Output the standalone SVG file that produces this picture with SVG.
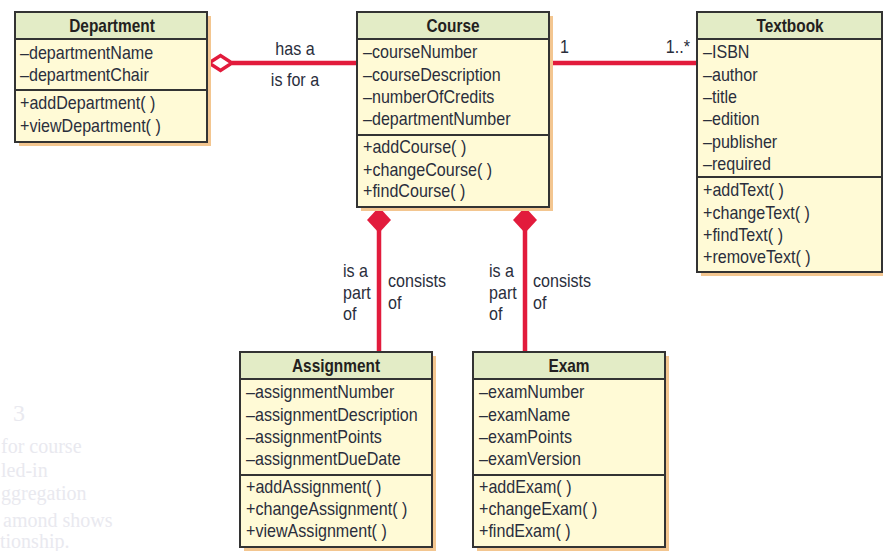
<svg xmlns="http://www.w3.org/2000/svg" width="883" height="551" viewBox="0 0 883 551">
  <defs>
    <style>
      .shadow { fill: #f3c690; }
      .body { fill: #fffad6; stroke: #333333; stroke-width: 2; }
      .head { fill: #e3ecc6; stroke: #333333; stroke-width: 2; }
      .sep { stroke: #333333; stroke-width: 2; }
      .t { font-family: "Liberation Sans", Arial, sans-serif; font-size: 17.5px; fill: #2a2e3c; }
      .h { font-family: "Liberation Sans", Arial, sans-serif; font-size: 17.5px; font-weight: bold; fill: #231f20; text-anchor: middle; }
      .link { stroke: #e21b3c; stroke-width: 4.5; fill: none; }
      .ghost { font-family: "Liberation Serif", "Times New Roman", serif; font-size: 20px; fill: #e9e9ef; }
    </style>
  </defs>

  <!-- faint print-through text at the left margin -->
  <g id="margin-text">
    <text class="ghost" x="13" y="421" style="font-size:24px">3</text>
    <text class="ghost" x="1" y="453">for course</text>
    <text class="ghost" x="1" y="477">led-in</text>
    <text class="ghost" x="1" y="500">ggregation</text>
    <text class="ghost" x="3" y="527">amond shows</text>
    <text class="ghost" x="0" y="548">tionship.</text>
  </g>

  <!-- associations -->
  <g id="connectors">
    <line class="link" x1="232" y1="63" x2="357" y2="63"/>
    <polygon points="209,63 220.5,55.5 232,63 220.5,70.5" fill="#ffffff" stroke="#e21b3c" stroke-width="3.5"/>
    <line class="link" x1="549" y1="63" x2="697" y2="63"/>
    <line class="link" x1="379" y1="230" x2="379" y2="352"/>
    <polygon points="379,207 391,220 379,233 367,220" fill="#e21b3c"/>
    <line class="link" x1="525" y1="230" x2="525" y2="352"/>
    <polygon points="525,207 537,220 525,233 513,220" fill="#e21b3c"/>
    <g transform="translate(295 55) scale(0.92 1)"><text class="t" text-anchor="middle">has a</text></g>
    <g transform="translate(295 86) scale(0.92 1)"><text class="t" text-anchor="middle">is for a</text></g>
    <g transform="translate(560 53) scale(0.92 1)"><text class="t">1</text></g>
    <g transform="translate(690 53) scale(0.92 1)"><text class="t" text-anchor="end">1..*</text></g>
    <g transform="translate(343 0) scale(0.92 1)">
      <text class="t" y="277">is a</text>
      <text class="t" y="299">part</text>
      <text class="t" y="320">of</text>
    </g>
    <g transform="translate(388 0) scale(0.92 1)">
      <text class="t" y="287">consists</text>
      <text class="t" y="309">of</text>
    </g>
    <g transform="translate(489 0) scale(0.92 1)">
      <text class="t" y="277">is a</text>
      <text class="t" y="299">part</text>
      <text class="t" y="320">of</text>
    </g>
    <g transform="translate(533 0) scale(0.92 1)">
      <text class="t" y="287">consists</text>
      <text class="t" y="309">of</text>
    </g>
  </g>

  <!-- Department -->
  <g id="department">
    <rect class="shadow" x="19" y="16" width="192" height="130"/>
    <rect class="body" x="15" y="12" width="192" height="130"/>
    <rect class="head" x="15" y="12" width="192" height="27"/>
    <line class="sep" x1="15" y1="90" x2="207" y2="90"/>
    <g transform="translate(112 0) scale(0.88 1)"><text class="h" y="32">Department</text></g>
    <g transform="translate(20 0) scale(0.92 1)">
      <text class="t" y="59">–departmentName</text>
      <text class="t" y="81">–departmentChair</text>
      <text class="t" y="109">+addDepartment( )</text>
      <text class="t" y="132">+viewDepartment( )</text>
    </g>
  </g>

  <!-- Course -->
  <g id="course">
    <rect class="shadow" x="361" y="16" width="192" height="195"/>
    <rect class="body" x="357" y="12" width="192" height="195"/>
    <rect class="head" x="357" y="12" width="192" height="27"/>
    <line class="sep" x1="357" y1="135" x2="549" y2="135"/>
    <g transform="translate(453 0) scale(0.88 1)"><text class="h" y="32">Course</text></g>
    <g transform="translate(363 0) scale(0.92 1)">
      <text class="t" y="58">–courseNumber</text>
      <text class="t" y="81">–courseDescription</text>
      <text class="t" y="103">–numberOfCredits</text>
      <text class="t" y="125">–departmentNumber</text>
      <text class="t" y="153">+addCourse( )</text>
      <text class="t" y="176">+changeCourse( )</text>
      <text class="t" y="197">+findCourse( )</text>
    </g>
  </g>

  <!-- Textbook -->
  <g id="textbook">
    <rect class="shadow" x="701" y="16" width="185" height="260"/>
    <rect class="body" x="697" y="12" width="185" height="260"/>
    <rect class="head" x="697" y="12" width="185" height="27"/>
    <line class="sep" x1="697" y1="177" x2="882" y2="177"/>
    <g transform="translate(790 0) scale(0.88 1)"><text class="h" y="32">Textbook</text></g>
    <g transform="translate(703 0) scale(0.92 1)">
      <text class="t" y="58">–ISBN</text>
      <text class="t" y="81">–author</text>
      <text class="t" y="103">–title</text>
      <text class="t" y="125">–edition</text>
      <text class="t" y="148">–publisher</text>
      <text class="t" y="170">–required</text>
      <text class="t" y="196">+addText( )</text>
      <text class="t" y="219">+changeText( )</text>
      <text class="t" y="241">+findText( )</text>
      <text class="t" y="263">+removeText( )</text>
    </g>
  </g>

  <!-- Assignment -->
  <g id="assignment">
    <rect class="shadow" x="244" y="356" width="192" height="195"/>
    <rect class="body" x="240" y="352" width="192" height="195"/>
    <rect class="head" x="240" y="352" width="192" height="27"/>
    <line class="sep" x1="240" y1="475" x2="432" y2="475"/>
    <g transform="translate(336 0) scale(0.88 1)"><text class="h" y="372">Assignment</text></g>
    <g transform="translate(246 0) scale(0.92 1)">
      <text class="t" y="398">–assignmentNumber</text>
      <text class="t" y="421">–assignmentDescription</text>
      <text class="t" y="443">–assignmentPoints</text>
      <text class="t" y="465">–assignmentDueDate</text>
      <text class="t" y="493">+addAssignment( )</text>
      <text class="t" y="515">+changeAssignment( )</text>
      <text class="t" y="537">+viewAssignment( )</text>
    </g>
  </g>

  <!-- Exam -->
  <g id="exam">
    <rect class="shadow" x="477" y="356" width="192" height="195"/>
    <rect class="body" x="473" y="352" width="192" height="195"/>
    <rect class="head" x="473" y="352" width="192" height="27"/>
    <line class="sep" x1="473" y1="475" x2="665" y2="475"/>
    <g transform="translate(569 0) scale(0.88 1)"><text class="h" y="372">Exam</text></g>
    <g transform="translate(479 0) scale(0.92 1)">
      <text class="t" y="398">–examNumber</text>
      <text class="t" y="421">–examName</text>
      <text class="t" y="443">–examPoints</text>
      <text class="t" y="465">–examVersion</text>
      <text class="t" y="493">+addExam( )</text>
      <text class="t" y="515">+changeExam( )</text>
      <text class="t" y="537">+findExam( )</text>
    </g>
  </g>
</svg>
